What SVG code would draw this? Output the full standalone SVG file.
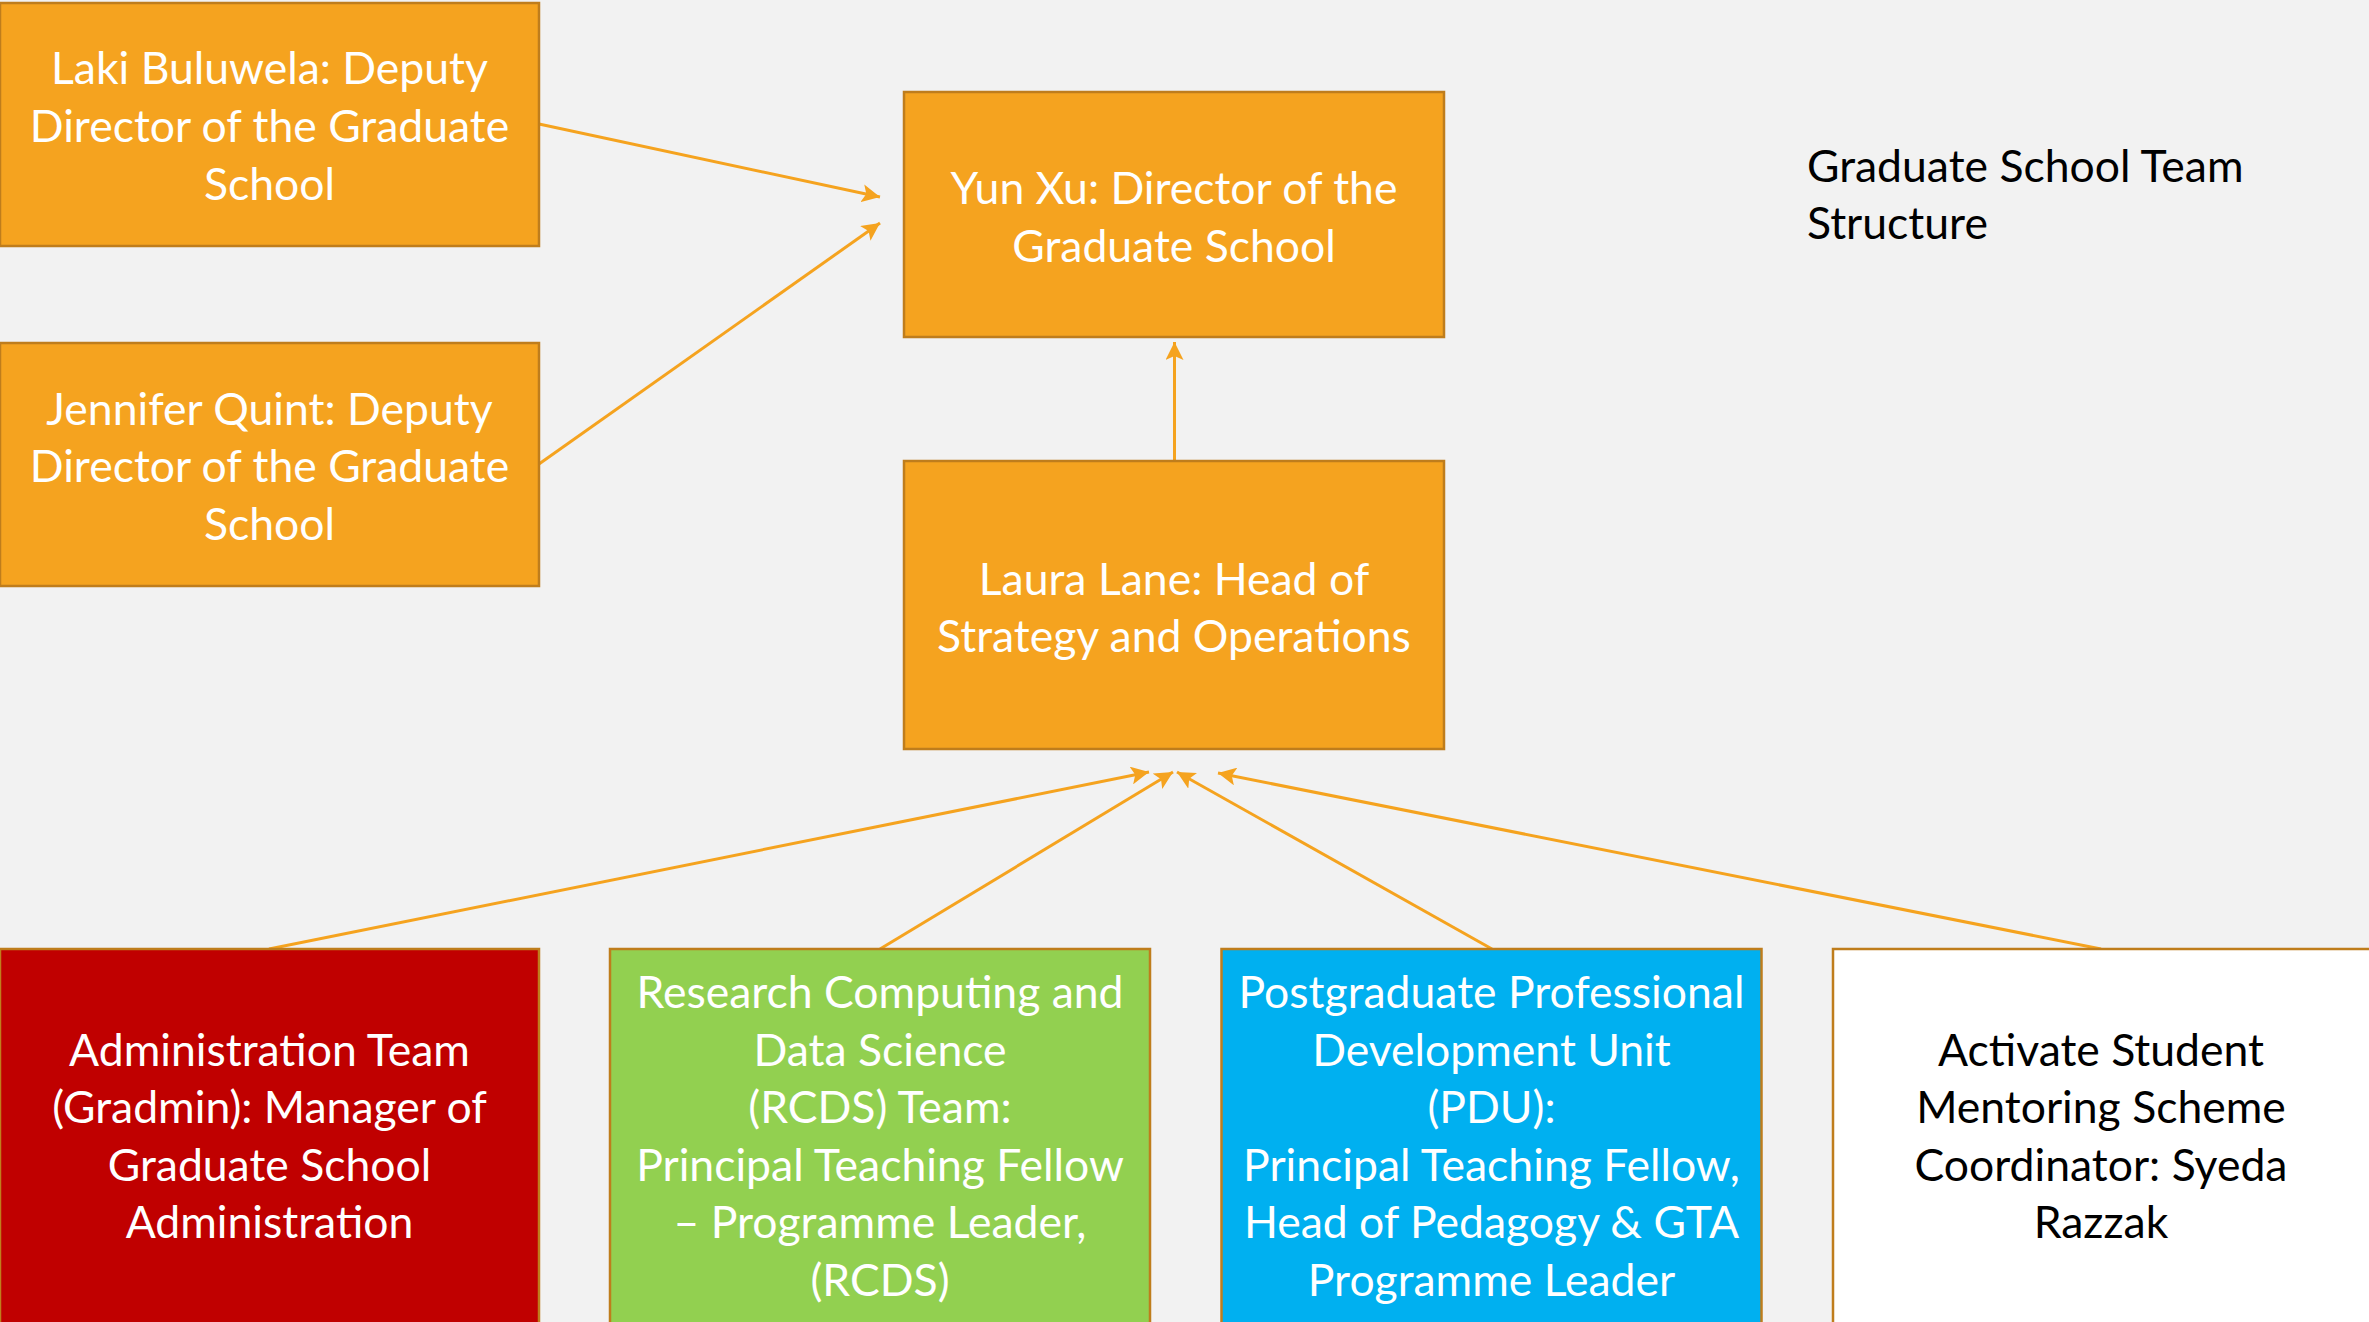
<svg xmlns="http://www.w3.org/2000/svg" width="2369" height="1322" viewBox="0 0 2369 1322">
<defs>
<style>
.bx{stroke:#BF7D1C;stroke-width:2.5}
.or{fill:#F5A31F}
.t{font-family:Lato,"Open Sans","DejaVu Sans",sans-serif;font-size:44.5px;text-anchor:middle;fill:#FFFFFF}
.k{fill:#000000}
.c{stroke:#F5A31F;stroke-width:3;fill:none;marker-end:url(#ah)}
</style>
<marker id="ah" markerUnits="userSpaceOnUse" markerWidth="20" markerHeight="18" refX="18" refY="9" orient="auto" viewBox="0 0 20 18">
<path d="M0,0 L18,9 L0,18 L4,9 Z" fill="#F5A31F"/>
</marker>
</defs>
<rect width="2369" height="1322" fill="#F2F2F2"/>
<g id="connectors">
<line class="c" x1="539" y1="124" x2="880" y2="197"/>
<line class="c" x1="539" y1="464" x2="880" y2="223"/>
<line class="c" x1="1174.5" y1="460" x2="1174.5" y2="342"/>
<line class="c" x1="269" y1="949" x2="1149" y2="772"/>
<line class="c" x1="880" y1="949" x2="1173" y2="772"/>
<line class="c" x1="1492" y1="949" x2="1177" y2="772"/>
<line class="c" x1="2101" y1="949" x2="1218" y2="773"/>
</g>
<g id="laki">
<rect class="bx or" x="0" y="3" width="539" height="243"/>
<text class="t" x="269.5" y="84">Laki Buluwela: Deputy</text>
<text class="t" x="269.5" y="142">Director of the Graduate</text>
<text class="t" x="269.5" y="200">School</text>
</g>
<g id="jennifer">
<rect class="bx or" x="0" y="343" width="539" height="243"/>
<text class="t" x="269.5" y="424.5">Jennifer Quint: Deputy</text>
<text class="t" x="269.5" y="482">Director of the Graduate</text>
<text class="t" x="269.5" y="539.5">School</text>
</g>
<g id="yunxu">
<rect class="bx or" x="904" y="92" width="540" height="245"/>
<text class="t" x="1174" y="203.5">Yun Xu: Director of the</text>
<text class="t" x="1174" y="261.5">Graduate School</text>
</g>
<g id="laura">
<rect class="bx or" x="904" y="461" width="540" height="288"/>
<text class="t" x="1174" y="594.5">Laura Lane: Head of</text>
<text class="t" x="1174" y="651.5">Strategy and Operations</text>
</g>
<g id="admin">
<rect class="bx" fill="#C00000" x="0" y="949" width="539" height="380"/>
<text class="t" x="269.5" y="1065.5">Administration Team</text>
<text class="t" x="269.5" y="1123">(Gradmin): Manager of</text>
<text class="t" x="269.5" y="1180.5">Graduate School</text>
<text class="t" x="269.5" y="1238">Administration</text>
</g>
<g id="rcds">
<rect class="bx" fill="#92D050" x="610" y="949" width="540" height="380"/>
<text class="t" x="880" y="1008">Research Computing and</text>
<text class="t" x="880" y="1065.5">Data Science</text>
<text class="t" x="880" y="1123">(RCDS) Team:</text>
<text class="t" x="880" y="1180.5">Principal Teaching Fellow</text>
<text class="t" x="880" y="1238">– Programme Leader,</text>
<text class="t" x="880" y="1295.5">(RCDS)</text>
</g>
<g id="pdu">
<rect class="bx" fill="#00B0F0" x="1221.5" y="949" width="540" height="380"/>
<text class="t" x="1491.5" y="1008">Postgraduate Professional</text>
<text class="t" x="1491.5" y="1065.5">Development Unit</text>
<text class="t" x="1491.5" y="1123">(PDU):</text>
<text class="t" x="1491.5" y="1180.5">Principal Teaching Fellow,</text>
<text class="t" x="1491.5" y="1238">Head of Pedagogy &amp; GTA</text>
<text class="t" x="1491.5" y="1295.5">Programme Leader</text>
</g>
<g id="activate">
<rect class="bx" fill="#FFFFFF" x="1833" y="949" width="545" height="380"/>
<text class="t k" x="2101" y="1065.5">Activate Student</text>
<text class="t k" x="2101" y="1123">Mentoring Scheme</text>
<text class="t k" x="2101" y="1180.5">Coordinator: Syeda</text>
<text class="t k" x="2101" y="1238">Razzak</text>
</g>
<g id="title">
<text class="t k" style="text-anchor:start" x="1807" y="181.5">Graduate School Team</text>
<text class="t k" style="text-anchor:start" x="1807" y="238.5">Structure</text>
</g>
</svg>
